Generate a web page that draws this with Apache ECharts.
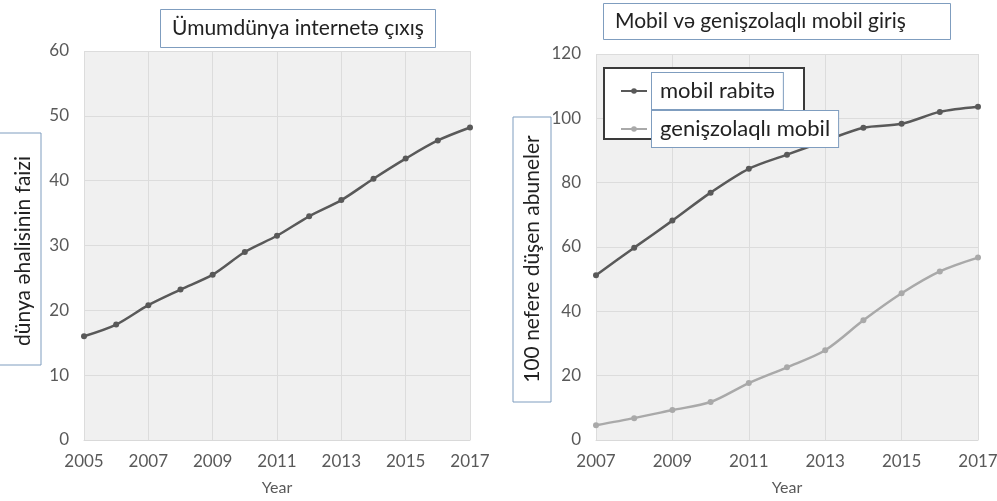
<!DOCTYPE html>
<html>
<head>
<meta charset="utf-8">
<script src="https://cdn.jsdelivr.net/npm/echarts@6/dist/echarts.min.js"></script>
<style>
html,body{margin:0;padding:0;background:#fff;}
#c{width:997px;height:501px;}
</style>
</head>
<body>
<div id="c"></div>
<script>
// ---- data ----
const years1 = ['2005','2006','2007','2008','2009','2010','2011','2012','2013','2014','2015','2016','2017'];
const internetShare = [16.0,17.8,20.8,23.2,25.5,29.0,31.5,34.5,37.0,40.3,43.4,46.2,48.2];
const years2 = ['2007','2008','2009','2010','2011','2012','2013','2014','2015','2016','2017'];
const mobileSubs = [51.2,59.8,68.2,76.9,84.3,88.7,93.0,97.1,98.3,102.0,103.6];
const broadbandSubs = [4.6,6.8,9.3,11.8,17.7,22.6,27.9,37.2,45.6,52.4,56.7];
const title1 = 'Ümumdünya internetə çıxış';
const title2 = 'Mobil və genişzolaqlı mobil giriş';
const yName1 = 'dünya əhalisinin faizi';
const yName2 = '100 nefere düşen abuneler';
const xName = 'Year';
const seriesNames = ['mobil rabitə','genişzolaqlı mobil'];

const FONT = 'Lato';
const BLUE = '#7f9dbf';
const TICK = '#595959';
const DARK = '#595959';
const LIGHT = '#a9a9a9';

const chart = echarts.init(document.getElementById('c'));

function xAxisCfg(gridIndex, data){
  return {
    type:'category', gridIndex, data, boundaryGap:false,
    name:xName, nameLocation:'middle', nameGap:40,
    nameTextStyle:{fontFamily:FONT,fontSize:16,color:TICK},
    axisLine:{show:true,lineStyle:{color:'#d9d9d9'}},
    axisTick:{show:false},
    axisLabel:{interval:1,fontFamily:FONT,fontSize:17,color:TICK,margin:13},
    splitLine:{show:true,interval:1,lineStyle:{color:'#dcdcdc',width:1}}
  };
}
function yAxisCfg(gridIndex, max, interval){
  return {
    type:'value', gridIndex, min:0, max, interval,
    axisLine:{show:false}, axisTick:{show:false},
    axisLabel:{fontFamily:FONT,fontSize:17,color:TICK,margin:15},
    splitLine:{show:true,lineStyle:{color:'#dcdcdc',width:1}}
  };
}
const titleStyle = {fontFamily:FONT,fontSize:21,fontWeight:'normal',color:'#222',lineHeight:25};

function nameBox(x0,y0,w,h){
  return {type:'rect',shape:{x:x0,y:y0,width:w,height:h},
    style:{fill:'#fff',stroke:BLUE,lineWidth:1},z:10,silent:true};
}
function nameText(cx,cy,text){
  return {type:'text',x:cx,y:cy,rotation:Math.PI/2,z:11,silent:true,
    style:{text,font:'21px '+FONT,fill:'#222',align:'center',verticalAlign:'middle'}};
}

chart.setOption({
  animation:false,
  title:[
    {text:title1,left:160,top:9,textStyle:titleStyle,borderColor:BLUE,borderWidth:1,
     backgroundColor:'#fff',padding:[7,12,7,12]},
    {text:title2,left:603,top:3,textStyle:titleStyle,borderColor:BLUE,borderWidth:1,
     backgroundColor:'#fff',padding:[6,45,6,12]}
  ],
  grid:[
    {left:84,right:527,top:51,bottom:61,show:true,backgroundColor:'#f0f0f0',borderWidth:0,outerBoundsMode:'none'},
    {left:596,right:19,top:54,bottom:61,show:true,backgroundColor:'#f0f0f0',borderWidth:0,outerBoundsMode:'none'}
  ],
  xAxis:[xAxisCfg(0,years1), xAxisCfg(1,years2)],
  yAxis:[yAxisCfg(0,60,10), yAxisCfg(1,120,20)],
  legend:{
    data:seriesNames, orient:'vertical', left:615, top:67, itemGap:0,
    itemWidth:26, itemHeight:7,
    textStyle:{fontFamily:FONT,fontSize:22,color:'#222',backgroundColor:'#fff',
      borderColor:BLUE,borderWidth:1,padding:[5,8,5,8],lineHeight:26},
    z:5
  },
  graphic:[
    {type:'rect',left:603,top:67,shape:{width:200,height:71},
     style:{fill:'#fff',stroke:'#3a3a3a',lineWidth:2},z:4},
    nameBox(-2,133,43,232),
    nameText(23,251,yName1),
    nameBox(513,117,38,285),
    nameText(532,259,yName2)
  ],
  series:[
    {name:'internet',type:'line',xAxisIndex:0,yAxisIndex:0,data:internetShare,smooth:0.3,
     symbol:'circle',symbolSize:6,lineStyle:{color:DARK,width:2.5},itemStyle:{color:DARK}},
    {name:seriesNames[0],type:'line',xAxisIndex:1,yAxisIndex:1,data:mobileSubs,smooth:0.3,
     symbol:'circle',symbolSize:6,lineStyle:{color:DARK,width:2.5},itemStyle:{color:DARK}},
    {name:seriesNames[1],type:'line',xAxisIndex:1,yAxisIndex:1,data:broadbandSubs,smooth:0.3,
     symbol:'circle',symbolSize:6,lineStyle:{color:LIGHT,width:2.5},itemStyle:{color:LIGHT}}
  ]
});
</script>
</body>
</html>
